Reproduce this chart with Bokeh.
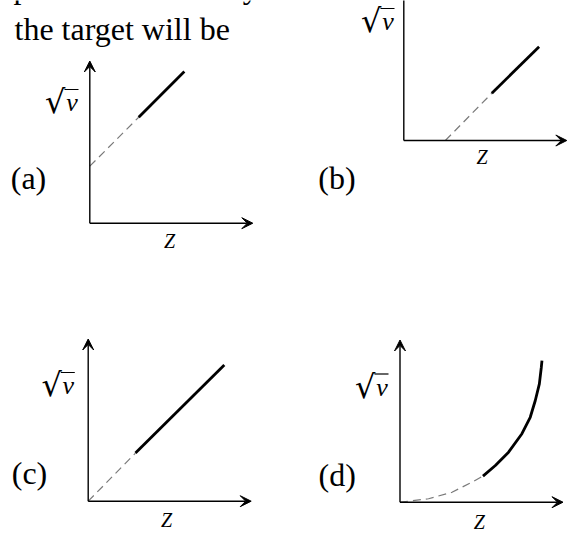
from bokeh.plotting import figure
from bokeh.models import Arrow, VeeHead
from bokeh.core.properties import value
from bokeh.embed import file_html
from bokeh.resources import INLINE

# ---- curve data, in axis units (each axis runs 0..10) ----
# (a) straight line with a positive intercept on the sqrt(nu) axis
a_dash_z = [0.0, 3.0]
a_dash_rv = [3.5, 6.5]
a_solid_z = [3.0, 5.8]
a_solid_rv = [6.5, 9.3]

# (b) straight line meeting the Z axis to the right of the origin
b_dash_z = [2.55, 5.4]
b_dash_rv = [0.0, 2.9]
b_solid_z = [5.4, 8.3]
b_solid_rv = [2.9, 5.75]

# (c) straight line through the origin
c_dash_z = [0.0, 2.9]
c_dash_rv = [0.0, 2.95]
c_solid_z = [2.9, 8.35]
c_solid_rv = [2.95, 8.35]

# (d) curve bending upwards
d_dash_z = [0.0, 1.75, 3.19, 4.42, 5.09]
d_dash_rv = [0.0, 0.21, 0.61, 1.23, 1.6]
d_solid_z = [5.09, 5.85, 6.66, 7.48, 7.99, 8.3, 8.55, 8.67, 8.71]
d_solid_rv = [1.6, 2.25, 3.07, 4.2, 5.21, 6.24, 7.26, 8.28, 8.69]

panel_letters = ["(a)", "(b)", "(c)", "(d)"]
x_title = "Z"
y_root = "\u221a"
y_var = "\u03bd"
heading_prev = "photons emitted by"
heading = "the target will be"

# ---- page layout (page pixels, y measured downwards) ----
W, H = 572, 533
S = 16.3                       # pixels per axis unit
X_LEN, Y_LEN = 10.0, 9.95      # axis lengths in units
origins = {"a": (89.3, 222.7), "b": (403.3, 140.0),
           "c": (87.7, 500.7), "d": (399.5, 501.7)}
ylabel_pos = {"a": (64, 103), "b": (380, 22), "c": (60.3, 386), "d": (374, 387.5)}
zlabel_pos = {"a": (169, 241.5), "b": (481.5, 158), "c": (166, 520.5), "d": (478.8, 522.5)}
letter_pos = {"a": (28, 182), "b": (336.5, 182), "c": (29, 476.7), "d": (336.7, 479)}

SERIF = value("Liberation Serif")
BASE_SHIFT = 0.42              # alphabetic baseline correction, in em


def baseline(y, size):
    return y - BASE_SHIFT * size


p = figure(width=W, height=H, x_range=(0, W), y_range=(H, 0),
           output_backend="svg", toolbar_location=None,
           min_border=0, outline_line_color=None, background_fill_color="white",
           border_fill_color="white")
p.axis.visible = False
p.grid.visible = False


def to_page(key, zs, rvs):
    ox, oy = origins[key]
    return [ox + z * S for z in zs], [oy - r * S for r in rvs]


curves = {
    "a": (a_dash_z, a_dash_rv, a_solid_z, a_solid_rv),
    "b": (b_dash_z, b_dash_rv, b_solid_z, b_solid_rv),
    "c": (c_dash_z, c_dash_rv, c_solid_z, c_solid_rv),
    "d": (d_dash_z, d_dash_rv, d_solid_z, d_solid_rv),
}

for key, (dz, drv, sz, srv) in curves.items():
    ox, oy = origins[key]
    # axes with arrow heads
    for xe, ye in ((ox + X_LEN * S, oy), (ox, oy - Y_LEN * S)):
        p.add_layout(Arrow(x_start=ox, y_start=oy, x_end=xe, y_end=ye,
                           line_color="black", line_width=1.4,
                           end=VeeHead(size=11, fill_color="black",
                                       line_color="black", line_width=1)))
    # extrapolated (dashed) and measured (solid) parts
    x, y = to_page(key, dz, drv)
    p.line(x, y, line_color="#7a7a7a", line_width=1.2, line_dash="8 5")
    x, y = to_page(key, sz, srv)
    p.line(x, y, line_color="black", line_width=2.8)

keys = ["a", "b", "c", "d"]

# axis titles
p.text(x=[zlabel_pos[k][0] for k in keys],
       y=[baseline(zlabel_pos[k][1] + 7, 20) for k in keys],
       text=[x_title] * 4, text_font=SERIF, text_font_style="italic",
       text_font_size="20px", text_align="center", text_baseline="alphabetic",
       text_color="black")

# panel letters
p.text(x=[letter_pos[k][0] for k in keys],
       y=[baseline(letter_pos[k][1] + 9, 32) for k in keys],
       text=panel_letters, text_font=SERIF, text_font_size="32px",
       text_align="center", text_baseline="alphabetic", text_color="black")

# sqrt(nu): radical sign, nu and the bar over it
cx = [ylabel_pos[k][0] for k in keys]
cy = [ylabel_pos[k][1] for k in keys]
p.text(x=[v + 1 for v in cx], y=[baseline(v + 12, 32) for v in cy], text=[y_root] * 4,
       text_font=value("DejaVu Serif"), text_font_size="32px", text_align="right",
       text_baseline="alphabetic", text_color="black")
p.text(x=[v + 7.5 for v in cx], y=[baseline(v + 10, 26) for v in cy], text=[y_var] * 4,
       text_font=SERIF, text_font_style="italic", text_font_size="26px",
       text_align="center", text_baseline="alphabetic", text_color="black")
p.segment(x0=[v for v in cx], y0=[v - 14 for v in cy],
          x1=[v + 14 for v in cx], y1=[v - 14 for v in cy],
          line_color="black", line_width=1.2)

# question text above the panels
p.text(x=[13, 14], y=[baseline(0, 32), baseline(41.7, 32)],
       text=[heading_prev, heading],
       text_font=SERIF, text_font_size="32px", text_align="left",
       text_baseline="alphabetic", text_color="black")

open("out.html", "w").write(file_html(p, INLINE))
